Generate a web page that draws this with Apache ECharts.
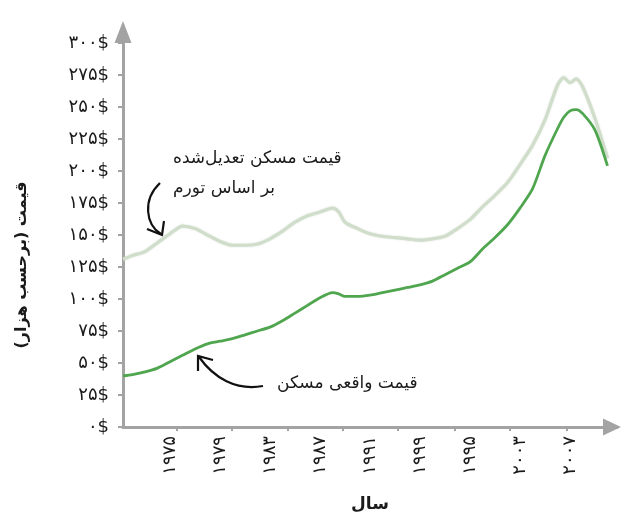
<!DOCTYPE html>
<html>
<head>
<meta charset="utf-8">
<script src="https://cdn.jsdelivr.net/npm/echarts@6/dist/echarts.min.js"></script>
<style>
  html, body { margin: 0; padding: 0; background: #ffffff; }
  #chart { width: 624px; height: 518px; }
</style>
</head>
<body>
<div id="chart"></div>
<script>
// Sample years (decimal years along the time axis)
const years = [1971.25, 1972, 1973, 1974, 1975, 1976, 1977, 1978, 1979, 1980,
  1981, 1982, 1983, 1984, 1985, 1986, 1987, 1988, 1988.5, 1989,
  1990, 1991, 1992, 1993, 1994, 1995, 1996, 1997, 1998, 1999,
  2000, 2001, 2002, 2003, 2004, 2005, 2006, 2006.5, 2007, 2007.5,
  2008, 2009, 2010];

// Nominal house price, thousands of dollars
const realPrice = [40, 41, 43, 46, 51, 56, 61, 65, 67, 69,
  72, 75, 78, 83, 89, 95, 101, 105, 104, 102,
  102, 103, 105, 107, 109, 111, 114, 119, 124, 129,
  139, 148, 158, 171, 186, 212, 233, 242, 247, 248,
  245, 232, 204];

// Inflation-adjusted house price, thousands of dollars
const adjustedPrice = [131, 134, 137, 144, 151, 157, 155, 150, 145, 142,
  142, 143, 147, 153, 160, 165, 168, 171, 168, 160,
  155, 151, 149, 148, 147, 146, 147, 149, 155, 162,
  172, 181, 191, 205, 220, 240, 267, 273, 269, 272,
  266, 241, 210];

// Year labels on the time axis and the text printed for each
const labelYears = [1975, 1979, 1983, 1987, 1991, 1995, 1999, 2003, 2007];
const labelTexts = ['۱۹۷۵', '۱۹۷۹', '۱۹۸۳', '۱۹۸۷', '۱۹۹۱', '۱۹۹۹', '۱۹۹۵', '۲۰۰۳', '۲۰۰۷'];
// Tick marks on the time axis
const tickYears = [1975.56, 1979.96, 1984.44, 1988.84, 1993.24, 1997.8, 2002.2, 2006.76];

const PERSIAN_DIGITS = '۰۱۲۳۴۵۶۷۸۹';
function toPersian(n) {
  return String(n).replace(/[0-9]/g, d => PERSIAN_DIGITS[+d]);
}

const FONT = 'DejaVu Sans';
const AXIS_GRAY = '#a3a3a3';
const TEXT = '#1a1a1a';

const chart = echarts.init(document.getElementById('chart'), null, { renderer: 'canvas' });

chart.setOption({
  backgroundColor: '#ffffff',
  animation: false,
  grid: { left: 123, right: 7, top: 43, bottom: 83 },
  xAxis: {
    type: 'value',
    min: 1971.24,
    max: 2010.76,
    name: 'سال',
    nameLocation: 'middle',
    nameGap: 69,
    nameTextStyle: { fontFamily: FONT, fontSize: 17, fontWeight: 'bold', color: TEXT },
    axisLine: {
      show: true,
      lineStyle: { color: AXIS_GRAY, width: 3 },
      symbol: ['none', 'triangle'],
      symbolSize: [17, 18],
      symbolOffset: [0, -5]
    },
    axisTick: {
      show: true,
      customValues: tickYears,
      length: 4,
      lineStyle: { color: AXIS_GRAY, width: 2 }
    },
    axisLabel: {
      customValues: labelYears,
      rotate: 90,
      margin: 9,
      fontFamily: FONT,
      fontSize: 18,
      color: TEXT,
      formatter: v => labelTexts[labelYears.indexOf(Math.round(v))] || ''
    },
    splitLine: { show: false }
  },
  yAxis: {
    type: 'value',
    min: 0,
    max: 300,
    interval: 25,
    axisLine: {
      show: true,
      lineStyle: { color: AXIS_GRAY, width: 3 },
      symbol: ['none', 'triangle'],
      symbolSize: [17, 22],
      symbolOffset: [0, 11]
    },
    axisTick: { show: true, length: 5, lineStyle: { color: AXIS_GRAY, width: 2 } },
    axisLabel: {
      margin: 14,
      fontFamily: FONT,
      fontSize: 18,
      color: TEXT,
      formatter: v => toPersian(v) + '$'
    },
    splitLine: { show: false }
  },
  series: [
    {
      name: 'قیمت مسکن تعدیل‌شده بر اساس تورم',
      type: 'line',
      data: years.map((y, i) => [y, adjustedPrice[i]]),
      showSymbol: false,
      smooth: 0.25,
      lineStyle: { color: '#d0ddcb', width: 3.2, shadowBlur: 2, shadowColor: 'rgba(200,215,195,0.7)' },
      z: 2
    },
    {
      name: 'قیمت واقعی مسکن',
      type: 'line',
      data: years.map((y, i) => [y, realPrice[i]]),
      showSymbol: false,
      smooth: 0.25,
      lineStyle: { color: '#4fa64f', width: 2.8 },
      z: 3
    }
  ],
  graphic: [
    {
      type: 'text',
      x: 22, y: 265,
      rotation: Math.PI / 2,
      style: {
        text: '\u202Bقیمت (برحسب هزار)\u202C',
        font: 'bold 16px ' + FONT,
        fill: TEXT,
        align: 'center',
        verticalAlign: 'middle'
      }
    },
    {
      type: 'text',
      x: 173, y: 159,
      style: { text: 'قیمت مسکن تعدیل‌شده', font: '17px ' + FONT, fill: TEXT, align: 'left', verticalAlign: 'middle' }
    },
    {
      type: 'text',
      x: 173, y: 189,
      style: { text: 'بر اساس تورم', font: '17px ' + FONT, fill: TEXT, align: 'left', verticalAlign: 'middle' }
    },
    {
      type: 'text',
      x: 277, y: 384,
      style: { text: 'قیمت واقعی مسکن', font: '17px ' + FONT, fill: TEXT, align: 'left', verticalAlign: 'middle' }
    },
    {
      type: 'bezierCurve',
      shape: { x1: 160, y1: 183, cpx1: 142, cpy1: 200, cpx2: 146, cpy2: 225, x2: 161, y2: 234 },
      style: { stroke: '#111', lineWidth: 2.2, fill: null }
    },
    {
      type: 'polyline',
      shape: { points: [[147, 229], [162, 235], [164, 221]] },
      style: { stroke: '#111', lineWidth: 2.2, fill: null }
    },
    {
      type: 'bezierCurve',
      shape: { x1: 263, y1: 386, cpx1: 236, cpy1: 391, cpx2: 214, cpy2: 378, x2: 199, y2: 357 },
      style: { stroke: '#111', lineWidth: 2.2, fill: null }
    },
    {
      type: 'polyline',
      shape: { points: [[198, 371], [198, 356], [213, 360]] },
      style: { stroke: '#111', lineWidth: 2.2, fill: null }
    }
  ]
});
</script>
</body>
</html>
